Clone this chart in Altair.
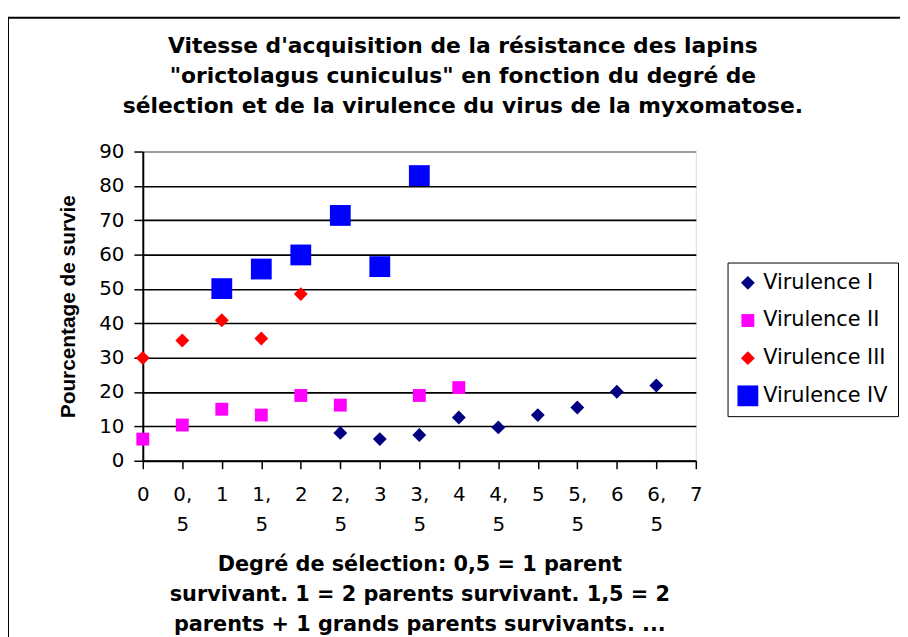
import json
import altair as alt
import pandas as pd

# ---- data ----
series = ["Virulence I", "Virulence II", "Virulence III", "Virulence IV"]
colors = ["#000080", "#FF00FF", "#FF0000", "#0000FF"]
shapes = ["diamond", "square", "diamond", "square"]
sizes = [196, 169, 196, 441]

v1_x = [2.5, 3, 3.5, 4, 4.5, 5, 5.5, 6, 6.5]
v1_y = [8.1, 6.3, 7.5, 12.6, 9.7, 13.3, 15.5, 20.1, 21.9]

v2_x = [0, 0.5, 1, 1.5, 2, 2.5, 3.5, 4]
v2_y = [6.3, 10.4, 15.0, 13.3, 19.0, 16.2, 19.0, 21.3]

v3_x = [0, 0.5, 1, 1.5, 2]
v3_y = [29.9, 35.0, 40.9, 35.6, 48.5]

v4_x = [1, 1.5, 2, 2.5, 3, 3.5]
v4_y = [50.1, 55.8, 59.9, 71.4, 56.5, 83.0]

x_ticks = [0, 0.5, 1, 1.5, 2, 2.5, 3, 3.5, 4, 4.5, 5, 5.5, 6, 6.5, 7]
x_tick_labels = ["0", "0,|5", "1", "1,|5", "2", "2,|5", "3", "3,|5",
                 "4", "4,|5", "5", "5,|5", "6", "6,|5", "7"]
y_ticks = [0, 10, 20, 30, 40, 50, 60, 70, 80, 90]

title_lines = [
    "Vitesse d'acquisition de la résistance des lapins",
    "\"orictolagus cuniculus\" en fonction du degré de",
    "sélection et de la virulence du virus de la myxomatose.",
]
x_title_lines = [
    "Degré de sélection: 0,5 = 1 parent",
    "survivant. 1 = 2 parents survivant. 1,5 = 2",
    "parents + 1 grands parents survivants. ...",
]
y_title = "Pourcentage de survie"

rows = []
for name, xs, ys in [(series[0], v1_x, v1_y), (series[1], v2_x, v2_y),
                     (series[2], v3_x, v3_y), (series[3], v4_x, v4_y)]:
    for xv, yv in zip(xs, ys):
        rows.append({"x": xv, "y": yv, "series": name})
df = pd.DataFrame(rows)

label_expr = "split({}[indexof({}, datum.value)], '|')".format(
    json.dumps(x_tick_labels), json.dumps(x_ticks))

points = alt.Chart(df).mark_point(filled=True, opacity=1, strokeWidth=0).encode(
    x=alt.X("x:Q",
            scale=alt.Scale(domain=[0, 7], nice=False, zero=False),
            axis=alt.Axis(values=x_ticks, labelExpr=label_expr, grid=False,
                          title=x_title_lines, titleFont="DejaVu Sans",
                          titleFontSize=21, titleFontWeight="bold",
                          titleColor="black", titleLineHeight=30, titlePadding=20,
                          labelFont="DejaVu Sans", labelFontSize=20,
                          labelColor="black", labelLineHeight=30,
                          labelPadding=16, labelOverlap=False, labelFlush=False,
                          labelBound=False, tickSize=8, tickColor="black",
                          tickWidth=1.5, domainColor="black", domainWidth=2)),
    y=alt.Y("y:Q",
            scale=alt.Scale(domain=[0, 90], nice=False, zero=True),
            axis=alt.Axis(values=y_ticks, format="d", title=y_title,
                          titleFont="Liberation Sans", titleFontSize=21,
                          titleFontWeight="bold", titleColor="black",
                          titlePadding=20, labelFont="DejaVu Sans",
                          labelFontSize=20, labelColor="black", labelPadding=10,
                          tickSize=9, tickColor="black", tickWidth=1.5,
                          domainColor="black", domainWidth=2, grid=True,
                          gridColor={"condition": {"test": "datum.value === 90",
                                                   "value": "#808080"},
                                     "value": "black"},
                          gridWidth=1.6, gridOpacity=1)),
    color=alt.Color("series:N", scale=alt.Scale(domain=series, range=colors),
                    legend=alt.Legend(title=None, orient="none", legendX=590,
                                      legendY=112, strokeColor="black",
                                      fillColor="white", padding=10,
                                      rowPadding=16, labelFont="DejaVu Sans",
                                      labelFontSize=21, labelColor="black",
                                      labelOffset=5, symbolStrokeWidth=0,
                                      symbolOpacity=1)),
    shape=alt.Shape("series:N", scale=alt.Scale(domain=series, range=shapes)),
    size=alt.Size("series:N",
                  scale=alt.Scale(type="ordinal", domain=series, range=sizes)),
)

frame_df = pd.DataFrame({"k": [0]})
frame_left = alt.Chart(frame_df).mark_rule(color="black", strokeWidth=2).encode(
    x=alt.value(-136), y=alt.value(-135), y2=alt.value(490))
frame_top = alt.Chart(frame_df).mark_rule(color="black", strokeWidth=2).encode(
    x=alt.value(-137), x2=alt.value(770), y=alt.value(-135))

chart = alt.layer(points, frame_left, frame_top).properties(
    width=558,
    height=312,
    padding={"left": 136, "top": 142, "right": 206, "bottom": 175},
    autosize=alt.AutoSizeParams(type="none"),
    title=alt.TitleParams(text=title_lines, font="DejaVu Sans", fontSize=22,
                          fontWeight="bold", color="black", lineHeight=30,
                          anchor="middle", frame="group", dx=44, offset=-102),
).configure_view(stroke="#808080", strokeWidth=2).configure(background="white")

chart.save("out.html", embed_options={"renderer": "svg", "actions": False})
